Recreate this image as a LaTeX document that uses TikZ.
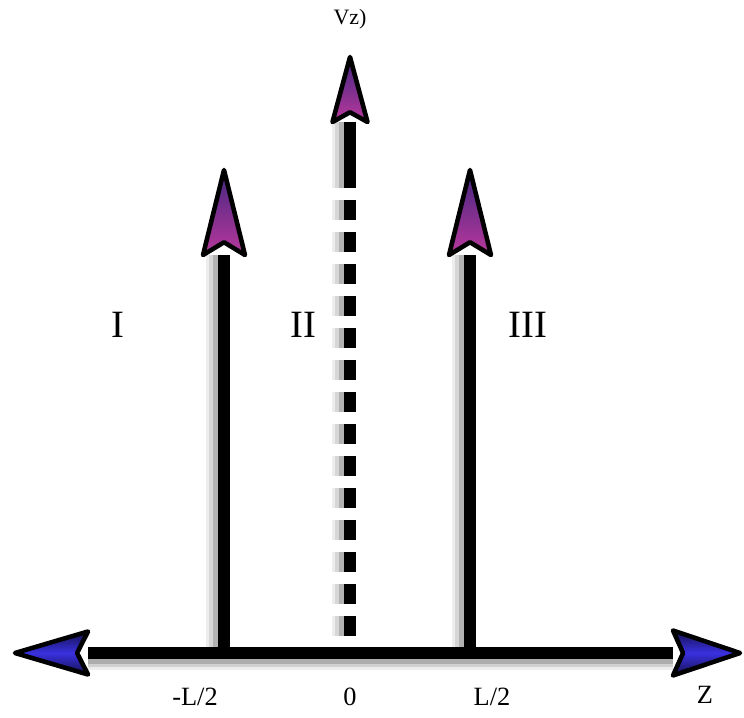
\documentclass[tikz,border=0pt]{standalone}
\usepackage{fontspec}
\setmainfont{Liberation Serif}
\usetikzlibrary{calc}

\definecolor{headblue}{RGB}{58,48,224}
\definecolor{headviolet}{RGB}{112,64,214}
\definecolor{headmagenta}{RGB}{184,56,156}

\tikzset{
  axisline/.style={line width=7pt, black},
  shadowline/.style={line width=3.6pt},
  headtip/.style={draw=black, line width=2.6pt, line join=round},
  blueshade/.style={top color=headblue!35!black, bottom color=headblue!35!black, middle color=headblue},
  violetshade/.style={top color=headviolet!60!black, bottom color=headmagenta},
  ticklabel/.style={font=\fontsize{15}{18}\selectfont, inner sep=0pt},
  zonelabel/.style={font=\fontsize{22}{26}\selectfont, inner sep=0pt},
  toplabel/.style={font=\fontsize{12.5}{14}\selectfont, inner sep=0pt},
  dashes/.style={dash pattern=on 0.4cm off 0.24cm},
}

% arrow head: tip, base, half width, shading
\newcommand{\tiphead}[4]{%
  \path[headtip, #4] (#1) -- ($(#2)!#3!90:(#1)$) -- ($(#2)!0.15!(#1)$)
    -- ($(#2)!#3!-90:(#1)$) -- cycle;
}
% soft shadow left of a vertical line
\newcommand{\vshadow}[3][]{%
  \draw[shadowline, black!7, #1, transform canvas={xshift=-0.3cm}] (#2) -- (#3);
  \draw[shadowline, black!16, #1, transform canvas={xshift=-0.23cm}] (#2) -- (#3);
  \draw[shadowline, black!30, #1, transform canvas={xshift=-0.16cm}] (#2) -- (#3);
}

\begin{document}
\begin{tikzpicture}[x=0.02cm, y=-0.02cm]
\useasboundingbox (0,0) rectangle (744,717);

% z axis
\coordinate (zl) at (15,653);
\coordinate (zr) at (740,653);
\coordinate (zlb) at (88,653);
\coordinate (zrb) at (673,653);
% walls at -L/2 and L/2
\coordinate (a0) at (224,653);
\coordinate (a1) at (224,170);
\coordinate (ab) at (224,255);
\coordinate (b0) at (470,653);
\coordinate (b1) at (470,170);
\coordinate (bb) at (470,255);
% V(z) axis
\coordinate (c0) at (350,636);
\coordinate (cd) at (350,168);
\coordinate (c1) at (350,57);
\coordinate (cb) at (350,122);

% shadows
\vshadow{a0}{ab}
\vshadow{b0}{bb}
\vshadow{cb}{cd}
\vshadow[dashes]{cd}{c0}
\draw[shadowline, black!7, transform canvas={yshift=-0.28cm}] (zlb) -- (zrb);
\draw[shadowline, black!18, transform canvas={yshift=-0.21cm}] (zlb) -- (zrb);
\draw[shadowline, black!32, transform canvas={yshift=-0.15cm}] (zlb) -- (zrb);

% lines
\draw[axisline] (zlb) -- (zrb);
\draw[axisline] (a0) -- (ab);
\draw[axisline] (b0) -- (bb);
\draw[axisline] (cd) -- (cb);
\draw[axisline, dashes] (cd) -- (c0);

% heads
\tiphead{zl}{zlb}{0.43cm}{blueshade}
\tiphead{zr}{zrb}{0.45cm}{blueshade}
\tiphead{a1}{ab}{0.42cm}{violetshade}
\tiphead{b1}{bb}{0.42cm}{violetshade}
\tiphead{c1}{cb}{0.35cm}{violetshade}

% labels
\node[toplabel] (vz) at (350,19) {Vz)};
\node[zonelabel] (r1) at (118,325) {I};
\node[zonelabel] (r2) at (303,325) {II};
\node[zonelabel] (r3) at (528,325) {III};
\node[ticklabel, anchor=base] (lm) at (195,705) {-L/2};
\node[ticklabel, anchor=base] (lz) at (350,705) {0};
\node[ticklabel, anchor=base] (lp) at (492,705) {L/2};
\node[ticklabel, anchor=base] (lzz) at (705,703) {Z};
\end{tikzpicture}
\end{document}
